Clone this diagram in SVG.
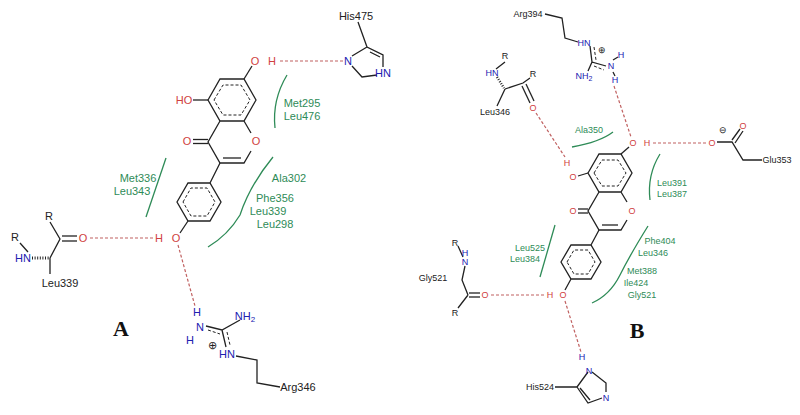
<svg xmlns="http://www.w3.org/2000/svg" width="800" height="415" viewBox="0 0 800 415">
<style>
.b{stroke:#222;stroke-width:1.3;fill:none}
.d{stroke:#222;stroke-width:1;fill:none;stroke-dasharray:3 2}
.hb{stroke:#c06060;stroke-width:1.2;fill:none;stroke-dasharray:3 2}
.g{stroke:#2e8b57;stroke-width:1.3;fill:none}
text{font-family:"Liberation Sans",Arial,sans-serif;text-anchor:middle;dominant-baseline:central}
.a{font-size:11px}.s{font-size:9px}
.k{fill:#222}.r{fill:#d04040}.n{fill:#2020b0}.gt{fill:#2e8b57}
.lab{font-family:"Liberation Serif","Times New Roman",serif;font-weight:bold;font-size:22px;fill:#111}
</style>
<rect width="800" height="415" fill="#fff"/>
<g id="connectors">
<line class="hb" x1="280" y1="61" x2="344" y2="61"/>
<line class="hb" x1="90" y1="238" x2="154" y2="238"/>
<line class="hb" x1="178" y1="245" x2="195" y2="306"/>
<line class="hb" x1="614" y1="86" x2="631" y2="137"/>
<line class="hb" x1="536" y1="113" x2="565" y2="157"/>
<line class="hb" x1="653" y1="143" x2="707" y2="143"/>
<line class="hb" x1="491" y1="295" x2="545" y2="295"/>
<line class="hb" x1="565" y1="301" x2="581" y2="352"/>
</g>
<g id="ligandA">
<path class="b" d="M208,100 L220,79 L244,79 L256,100 L244,121 L220,121 Z M220,121 L208,142 L220,163 L244,163 L251,151 M244,121 L251,133"/>
<path class="d" d="M214,100 L223,85 L241,85 L250,100 L241,115 L223,115 Z"/>
<line class="b" x1="223" y1="158" x2="241" y2="158"/>
<line class="b" x1="244" y1="79" x2="252" y2="66"/>
<line class="b" x1="193" y1="100" x2="208" y2="100"/>
<line class="b" x1="193" y1="139.5" x2="208" y2="139.5"/>
<line class="b" x1="193" y1="143.5" x2="208" y2="143.5"/>
<path class="b" d="M220,163 L210,183 M177,202 L188,183 L210,183 L221,202 L210,221 L188,221 Z M188,221 L180,233"/>
<path class="d" d="M183,202 L191,188 L207,188 L215,202 L207,216 L191,216 Z"/>
<text class="a r" x="255" y="61">O</text><text class="a r" x="272" y="61">H</text>
<text class="a r" x="184" y="100">HO</text>
<text class="a r" x="187" y="141">O</text>
<text class="a r" x="256" y="141">O</text>
<text class="a r" x="176" y="238">O</text><text class="a r" x="159" y="238">H</text>
</g>
<g id="His475">
<path class="b" d="M358,22 L367,47 L383,55 L383,67 M377,75 L362,77 L352,66 M352,56 L367,47 M370,52 L380,57"/>
<text class="a k" x="356" y="16">His475</text>
<text class="a n" x="348" y="61">N</text><text class="a n" x="383" y="73">HN</text>
</g>
<g id="Leu339">
<path class="b" d="M20,243 L28,252 M50,258 L60,239 L50,222 M50,258 L50,274"/>
<line class="b" x1="62" y1="236" x2="77" y2="236"/><line class="b" x1="62" y1="241" x2="77" y2="241"/>
<line x1="32" y1="258" x2="49" y2="258" stroke="#222" stroke-width="3" stroke-dasharray="1 1.6"/>
<text class="a k" x="49" y="216">R</text><text class="a k" x="15" y="237">R</text>
<text class="a n" x="23" y="258">HN</text>
<text class="a r" x="83" y="238">O</text>
<text class="a k" x="60" y="283">Leu339</text>
</g>
<g id="Arg346">
<path class="b" d="M206,326 L222,330 L240,320 M222,330 L226,347 M236,356 L257,360 L257,383 L280,387"/>
<path class="d" d="M208,330 L220,334 M227,332 L230,345"/>
<text class="a n" x="197" y="312">H</text><text class="a n" x="200" y="327">N</text><text class="a n" x="190" y="340">H</text>
<text class="a n" x="245" y="316">NH<tspan font-size="8" dy="3">2</tspan></text>
<text class="a n" x="227" y="354">HN</text>
<text class="a k" x="212" y="345">⊕</text>
<text class="a k" x="298" y="387">Arg346</text>
</g>
<g id="residuesA">
<path class="g" d="M287,75 Q272,100 275,128"/>
<text class="a gt" x="302" y="103">Met295</text><text class="a gt" x="302" y="116">Leu476</text>
<line class="g" x1="166" y1="158" x2="146" y2="217"/>
<text class="a gt" x="138" y="178">Met336</text><text class="a gt" x="132" y="191">Leu343</text>
<path class="g" d="M273,157 Q250,185 240,215 Q228,235 208,247"/>
<text class="a gt" x="289" y="178">Ala302</text><text class="a gt" x="275" y="198">Phe356</text>
<text class="a gt" x="268" y="211">Leu339</text><text class="a gt" x="275" y="224">Leu298</text>
<text class="lab" x="121" y="328">A</text>
</g>
<g id="ligandB">
<path class="b" d="M588,173 L599,154 L621,154 L632,173 L621,192 L599,192 Z M599,192 L588,211 L599,230 L621,230 L627,220 M621,192 L627,202"/>
<path class="d" d="M594,173 L602,160 L618,160 L626,173 L618,186 L602,186 Z"/>
<line class="b" x1="602" y1="225" x2="618" y2="225"/>
<line class="b" x1="621" y1="154" x2="629" y2="147"/>
<line class="b" x1="578" y1="176" x2="588" y2="173"/>
<line class="b" x1="578" y1="209" x2="588" y2="209"/>
<line class="b" x1="578" y1="213" x2="588" y2="213"/>
<path class="b" d="M599,230 L591,245 M561,262 L571,245 L591,245 L601,262 L591,279 L571,279 Z M571,279 L565,290"/>
<path class="d" d="M567,262 L574,250 L588,250 L595,262 L588,274 L574,274 Z"/>
<text class="s r" x="633" y="143">O</text><text class="s r" x="647" y="143">H</text>
<text class="s r" x="567" y="163">H</text><text class="s r" x="573" y="177">O</text>
<text class="s r" x="573" y="211">O</text><text class="s r" x="632" y="211">O</text>
<text class="s r" x="563" y="295">O</text><text class="s r" x="550" y="295">H</text>
</g>
<g id="Arg394">
<path class="b" d="M545,14 L562,18 L565,38 L578,42 M590,46 L592,62 L606,66 M592,62 L588,71 M613,60 L618,57 M613,72 L615,76"/>
<path class="d" d="M594,47 L596,60 M594,66 L604,70"/>
<text class="s k" x="528" y="14">Arg394</text>
<text class="s n" x="584" y="43">HN</text><text class="s k" x="602" y="50">⊕</text>
<text class="s n" x="584" y="76">NH<tspan font-size="7" dy="2">2</tspan></text>
<text class="s n" x="611" y="66">N</text><text class="s n" x="621" y="55">H</text><text class="s n" x="615" y="80">H</text>
</g>
<g id="Leu346">
<path class="b" d="M505,62 L496,69 M505,89 L523,83 L530,78 M505,89 L497,106"/>
<line class="b" x1="522" y1="86" x2="530" y2="103"/><line class="b" x1="526" y1="84" x2="534" y2="101"/>
<line x1="497" y1="77" x2="504" y2="88" stroke="#222" stroke-width="2.5" stroke-dasharray="1 1.5"/>
<text class="s k" x="505" y="56">R</text><text class="s n" x="492" y="73">HN</text>
<text class="s k" x="533" y="74">R</text><text class="s r" x="533" y="108">O</text>
<text class="s k" x="495" y="112">Leu346</text>
</g>
<g id="Glu353">
<path class="b" d="M717,142 L732,142 L743,160 L762,160 M732,140 L740,129 M735,143 L743,131"/>
<text class="s r" x="712" y="143">O</text><text class="s r" x="743" y="126">O</text>
<text class="s k" x="723" y="130">⊖</text>
<text class="s k" x="777" y="160">Glu353</text>
</g>
<g id="Gly521">
<path class="b" d="M468,295 L462,280 L465,266 M468,295 L458,308 M458,246 L463,257"/>
<line class="b" x1="469" y1="293" x2="480" y2="293"/><line class="b" x1="469" y1="297" x2="480" y2="297"/>
<text class="s k" x="455" y="243">R</text><text class="s n" x="465" y="253">H</text><text class="s n" x="465" y="262">N</text>
<text class="s k" x="433" y="278">Gly521</text>
<text class="s r" x="485" y="295">O</text><text class="s k" x="455" y="313">R</text>
</g>
<g id="His524">
<path class="b" d="M555,387 L577,387 L588,372 M577,387 L588,403 L602,398 M606,392 L606,383 L592,372 M580,388 L590,400"/>
<text class="s n" x="582" y="357">H</text><text class="s n" x="589" y="371">N</text><text class="s n" x="606" y="398">N</text>
<text class="s k" x="540" y="387">His524</text>
</g>
<g id="residuesB">
<path class="g" d="M572,147 Q600,142 613,132"/>
<text class="s gt" x="589" y="130">Ala350</text>
<path class="g" d="M660,154 Q647,175 650,200"/>
<text class="s gt" x="672" y="183">Leu391</text><text class="s gt" x="672" y="194">Leu387</text>
<line class="g" x1="555" y1="225" x2="540" y2="277"/>
<text class="s gt" x="530" y="248">Leu525</text><text class="s gt" x="525" y="259">Leu384</text>
<path class="g" d="M648,226 Q630,255 620,275 Q610,295 592,303"/>
<text class="s gt" x="660" y="241">Phe404</text><text class="s gt" x="653" y="253">Leu346</text>
<text class="s gt" x="642" y="271">Met388</text><text class="s gt" x="636" y="283">Ile424</text><text class="s gt" x="642" y="295">Gly521</text>
<text class="lab" x="637" y="330">B</text>
</g>
</svg>
